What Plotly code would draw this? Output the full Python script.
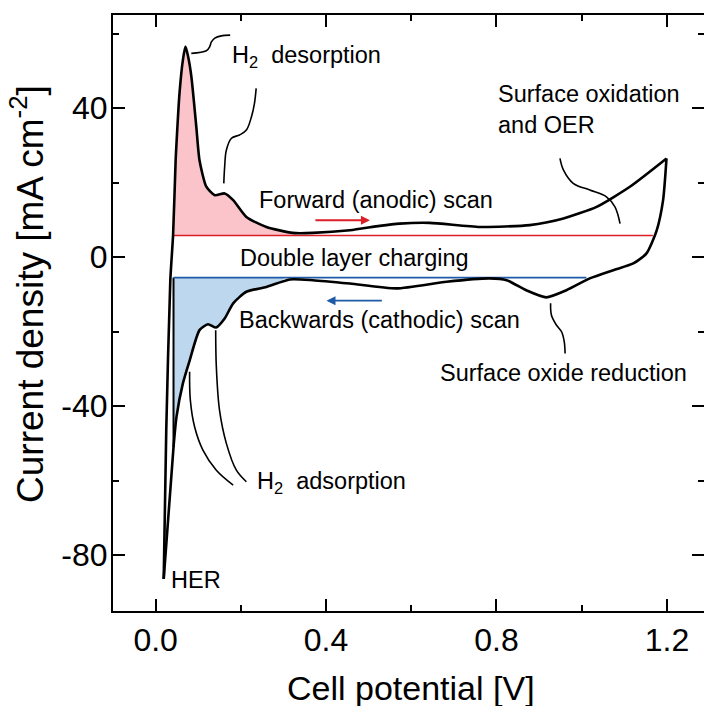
import numpy as np
import plotly.graph_objects as go

# ---------------- data ----------------
fwd_x = [0.019, 0.025, 0.0345, 0.041, 0.047, 0.049, 0.056, 0.064, 0.070, 0.076, 0.084,
         0.0955, 0.103, 0.119, 0.139, 0.162, 0.182, 0.213, 0.26, 0.322, 0.369, 0.456,
         0.526, 0.573, 0.643, 0.761, 0.878, 0.957, 1.035, 1.113, 1.199]
fwd_y = [-86.4, -46.4, -6.2, 5.9, 26.0, 30.5, 43.9, 52.9, 56.5, 54.0, 48.4,
         35.0, 26.0, 18.9, 16.6, 17.1, 15.3, 10.8, 8.1, 6.5, 6.5, 7.2,
         8.4, 9.0, 9.2, 8.1, 8.6, 10.4, 13.5, 18.9, 26.5]

bwd_x = [1.199, 1.191, 1.176, 1.152, 1.121, 1.074, 1.019, 0.964, 0.917, 0.870, 0.824,
         0.784, 0.683, 0.565, 0.456, 0.369, 0.315, 0.260, 0.213, 0.182, 0.162, 0.142,
         0.123, 0.103, 0.080, 0.064, 0.049, 0.042, 0.019]
bwd_y = [26.5, 15.3, 7.2, 1.0, -1.7, -3.5, -5.7, -8.9, -10.8, -8.9, -6.2,
         -5.7, -6.6, -8.4, -7.1, -6.2, -6.0, -8.0, -9.3, -12.4, -16.5, -18.9,
         -18.0, -19.6, -27.7, -33.9, -42.9, -51.0, -86.4]

# double-layer baselines and filled (H upd) regions
base_start = 0.042
fwd_base, fwd_base_end, fwd_fill_end = 5.8, 1.167, 0.33
bwd_base, bwd_base_end, bwd_fill_end = -5.5, 1.011, 0.30

# scan direction arrows
fwd_arrow_x, fwd_arrow_y = [0.368, 0.503], 9.9
bwd_arrow_x, bwd_arrow_y = [0.538, 0.401], -11.7

# leader lines for the labels
lead_des1 = ([0.0838, 0.119, 0.127, 0.131, 0.139, 0.154, 0.175],
             [54.7, 55.4, 56.5, 57.8, 58.8, 59.4, 59.6])
lead_des2 = ([0.160, 0.162, 0.166, 0.178, 0.197, 0.213, 0.225, 0.232, 0.236],
             [19.8, 24.2, 28.7, 31.9, 32.8, 34.1, 37.7, 41.3, 45.3])
lead_ads1 = ([0.0798, 0.0815, 0.0916, 0.111, 0.1425, 0.182],
             [-30.8, -38.4, -45.6, -51.8, -57.2, -61.2])
lead_ads2 = ([0.141, 0.1425, 0.150, 0.166, 0.1895, 0.213],
             [-19.6, -29.4, -41.1, -50.0, -57.2, -60.3])
lead_oer = ([0.949, 0.957, 0.980, 1.019, 1.058, 1.078, 1.090],
            [26.5, 23.4, 19.8, 18.0, 16.2, 13.5, 9.0])
lead_red = ([0.927, 0.929, 0.941, 0.953, 0.959, 0.961],
            [-12.4, -15.6, -18.3, -20.1, -22.7, -25.9])

labels = [
    ("H<sub>2</sub>\u00a0 desorption", 0.175, 53.8),
    ("Forward (anodic) scan", 0.237, 15.3),
    ("Double layer charging", 0.193, -0.3),
    ("Backwards (cathodic) scan", 0.190, -16.9),
    ("Surface oxidation<br>and OER", 0.800, 39.7),
    ("Surface oxide reduction", 0.663, -31.2),
    ("H<sub>2</sub>\u00a0 adsorption", 0.233, -60.5),
    ("HER", 0.031, -86.7),
]

x_tick_vals = [0.0, 0.4, 0.8, 1.2]
y_tick_vals = [-80, -40, 0, 40]
y_tick_text = ["-80", "-40", "0", "40"]
x_range = [-0.1, 1.287]
y_range = [-95, 65]

# ---------------- styling ----------------
FONT = "Liberation Sans, Arial, Helvetica, sans-serif"
RED, BLUE = "#dc1f26", "#1f5aa6"
PINK, LBLUE = "#fbc3ca", "#bdd7ee"

fig = go.Figure()

# forward fill (between baseline and curve)
fx = np.array(fwd_x); fy = np.array(fwd_y)
sel = (fx > base_start) & (fx < fwd_fill_end)
sx = [base_start] + list(fx[sel]) + [fwd_fill_end]
sy = [float(np.interp(base_start, fx, fy))] + list(fy[sel]) + [float(np.interp(fwd_fill_end, fx, fy))]
fig.add_trace(go.Scatter(x=[base_start, fwd_fill_end], y=[fwd_base, fwd_base], mode="lines",
                         line=dict(width=0), hoverinfo="skip"))
fig.add_trace(go.Scatter(x=sx, y=sy, mode="lines", line=dict(width=0, shape="spline", smoothing=0.6),
                         fill="tonexty", fillcolor=PINK, hoverinfo="skip"))

# backward fill
bx = np.array(bwd_x[::-1]); by = np.array(bwd_y[::-1])
sel = (bx > base_start) & (bx < bwd_fill_end)
b_start_y = float(np.interp(base_start, bx, by))
sx = [base_start] + list(bx[sel]) + [bwd_fill_end]
sy = [b_start_y] + list(by[sel]) + [float(np.interp(bwd_fill_end, bx, by))]
fig.add_trace(go.Scatter(x=[base_start, bwd_fill_end], y=[bwd_base, bwd_base], mode="lines",
                         line=dict(width=0), hoverinfo="skip"))
fig.add_trace(go.Scatter(x=sx, y=sy, mode="lines", line=dict(width=0, shape="spline", smoothing=0.6),
                         fill="tonexty", fillcolor=LBLUE, hoverinfo="skip"))
# left edge of the blue region
fig.add_trace(go.Scatter(x=[base_start, base_start], y=[bwd_base, b_start_y], mode="lines",
                         line=dict(color="black", width=2), hoverinfo="skip"))

# baselines
fig.add_trace(go.Scatter(x=[base_start, fwd_base_end], y=[fwd_base, fwd_base], mode="lines",
                         line=dict(color=RED, width=1.6), hoverinfo="skip"))
fig.add_trace(go.Scatter(x=[base_start, bwd_base_end], y=[bwd_base, bwd_base], mode="lines",
                         line=dict(color=BLUE, width=1.6), hoverinfo="skip"))

# CV curve
fig.add_trace(go.Scatter(x=fwd_x, y=fwd_y, mode="lines",
                         line=dict(color="black", width=2.6, shape="spline", smoothing=0.6)))
fig.add_trace(go.Scatter(x=bwd_x, y=bwd_y, mode="lines",
                         line=dict(color="black", width=2.6, shape="spline", smoothing=0.6)))

# leader lines
for lx, ly in [lead_des1, lead_des2, lead_ads1, lead_ads2, lead_oer, lead_red]:
    fig.add_trace(go.Scatter(x=lx, y=ly, mode="lines",
                             line=dict(color="black", width=1.6, shape="spline", smoothing=1.0),
                             hoverinfo="skip"))

# invisible trace to carry the right-hand (tick-only) axis
fig.add_trace(go.Scatter(x=[base_start], y=[bwd_base], yaxis="y2", mode="lines",
                         line=dict(width=0), hoverinfo="skip"))

# arrows
fig.add_annotation(x=fwd_arrow_x[1], y=fwd_arrow_y, ax=fwd_arrow_x[0], ay=fwd_arrow_y,
                   xref="x", yref="y", axref="x", ayref="y", showarrow=True, text=" ",
                   arrowhead=2, arrowsize=1.0, arrowwidth=1.8, arrowcolor=RED)
fig.add_annotation(x=bwd_arrow_x[1], y=bwd_arrow_y, ax=bwd_arrow_x[0], ay=bwd_arrow_y,
                   xref="x", yref="y", axref="x", ayref="y", showarrow=True, text=" ",
                   arrowhead=2, arrowsize=1.0, arrowwidth=1.8, arrowcolor=BLUE)

for txt, tx, ty in labels:
    fig.add_annotation(x=tx, y=ty, xref="x", yref="y", text=txt, showarrow=False,
                       xanchor="left", yanchor="middle", align="left",
                       font=dict(family=FONT, size=23.5, color="black"))

# axis titles
fig.add_annotation(x=0.505, y=-0.130, xref="paper", yref="paper", text="Cell potential [V]",
                   showarrow=False, xanchor="center", yanchor="middle",
                   font=dict(family=FONT, size=34, color="black"))
fig.add_annotation(x=-0.1438, y=0.532, xref="paper", yref="paper",
                   text="Current density [mA cm<sup>-2</sup>]", textangle=-90,
                   showarrow=False, xanchor="center", yanchor="middle",
                   font=dict(family=FONT, size=37, color="black"))

tick_common = dict(ticks="inside", ticklen=12, tickwidth=2, tickcolor="black",
                   showgrid=False, zeroline=False,
                   tickfont=dict(family=FONT, size=32, color="black"))

fig.update_layout(
    width=704, height=706,
    margin=dict(l=113, r=0, t=15, b=95),
    plot_bgcolor="white", paper_bgcolor="white",
    showlegend=False,
    xaxis=dict(range=x_range, tickmode="array", tickvals=x_tick_vals,
               ticktext=[f"{v:.1f}" for v in x_tick_vals],
               showline=True, linewidth=2, linecolor="black", mirror="ticks",
               minor=dict(tickmode="linear", tick0=0, dtick=0.2, ticks="inside", ticklen=6,
                          tickwidth=2, tickcolor="black"),
               **tick_common),
    yaxis=dict(range=y_range, tickmode="array", tickvals=y_tick_vals, ticktext=y_tick_text,
               showline=True, linewidth=2, linecolor="black", mirror=False,
               ticklabelstandoff=-3,
               minor=dict(tickmode="linear", tick0=0, dtick=20, ticks="inside", ticklen=6,
                          tickwidth=2, tickcolor="black"),
               **tick_common),
    yaxis2=dict(range=y_range, overlaying="y", side="right", anchor="x",
                tickmode="array", tickvals=y_tick_vals, showticklabels=False,
                showline=False,
                minor=dict(tickmode="linear", tick0=0, dtick=20, ticks="inside", ticklen=6,
                           tickwidth=2, tickcolor="black"),
                **tick_common),
)

fig.write_html("out.html", config={"displayModeBar": False},
               post_script="document.body.style.margin='0px';document.body.style.overflow='hidden';")
